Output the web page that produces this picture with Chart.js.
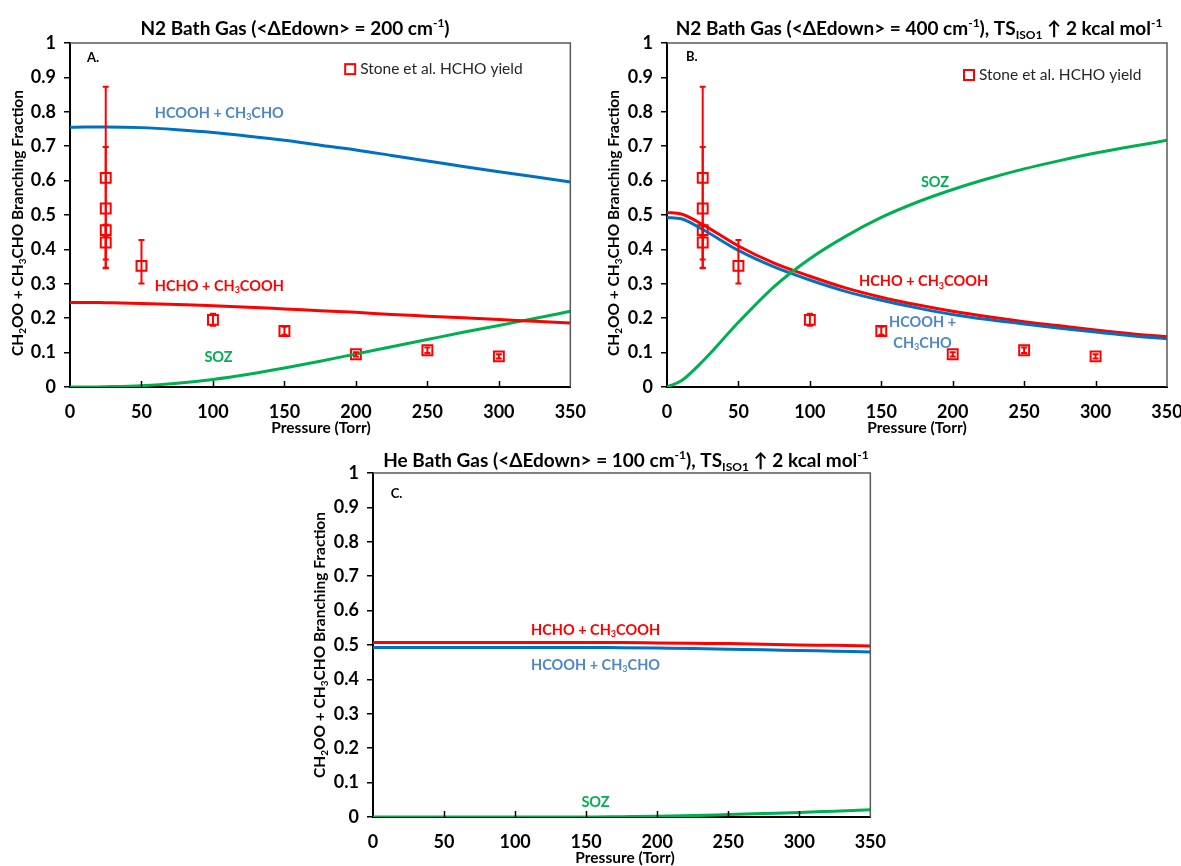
<!DOCTYPE html>
<html>
<head>
<meta charset="utf-8">
<script src="https://cdn.jsdelivr.net/npm/chart.js@4/dist/chart.umd.min.js"></script>
<style>
  html, body { margin: 0; padding: 0; background: #ffffff; }
  #wrap { position: relative; width: 1181px; height: 866px; overflow: hidden; background: #ffffff; }
  #wrap canvas { position: absolute; }
</style>
</head>
<body>
<div id="wrap">
  <canvas id="panelA"></canvas>
  <canvas id="panelB"></canvas>
  <canvas id="panelC"></canvas>
</div>
<script>
// ---------- data ----------
const pressureGrid = [0, 10, 25, 50, 75, 100, 125, 150, 175, 200, 225, 250, 275, 300, 325, 350];

// Panel A: N2, <ΔEdown> = 200 cm-1
const aAcidAldehyde = [0.755, 0.756, 0.756, 0.754, 0.748, 0.740, 0.729, 0.717, 0.703, 0.689, 0.673, 0.657, 0.641, 0.626, 0.611, 0.596];
const aHchoAcid     = [0.246, 0.246, 0.245, 0.243, 0.240, 0.236, 0.232, 0.227, 0.222, 0.217, 0.211, 0.206, 0.201, 0.196, 0.191, 0.186];
const aSoz          = [0.000, 0.000, 0.001, 0.004, 0.011, 0.022, 0.037, 0.055, 0.075, 0.096, 0.117, 0.138, 0.159, 0.179, 0.199, 0.220];

// Panel B: N2, <ΔEdown> = 400 cm-1, TS_ISO1 raised 2 kcal/mol
const bHchoAcid     = [0.507, 0.503, 0.472, 0.410, 0.360, 0.322, 0.288, 0.261, 0.239, 0.220, 0.204, 0.190, 0.178, 0.166, 0.155, 0.146];
const bAcidAldehyde = [0.493, 0.489, 0.458, 0.397, 0.349, 0.311, 0.278, 0.252, 0.230, 0.211, 0.196, 0.183, 0.171, 0.160, 0.149, 0.140];
const bSoz          = [0.000, 0.018, 0.075, 0.188, 0.292, 0.373, 0.438, 0.493, 0.537, 0.574, 0.606, 0.634, 0.658, 0.680, 0.699, 0.717];

// Panel C: He, <ΔEdown> = 100 cm-1, TS_ISO1 raised 2 kcal/mol
const cHchoAcid     = [0.507, 0.507, 0.507, 0.507, 0.507, 0.507, 0.507, 0.507, 0.507, 0.506, 0.505, 0.504, 0.502, 0.500, 0.499, 0.497];
const cAcidAldehyde = [0.493, 0.493, 0.493, 0.493, 0.493, 0.493, 0.493, 0.493, 0.492, 0.491, 0.490, 0.488, 0.486, 0.484, 0.482, 0.480];
const cSoz          = [0.000, 0.000, 0.000, 0.000, 0.000, 0.000, 0.000, 0.000, 0.001, 0.002, 0.004, 0.007, 0.010, 0.013, 0.017, 0.021];

// Stone et al. HCHO yield with error limits
const stonePressure = [25, 25, 25, 25, 50, 100, 150, 200, 250, 300];
const stoneYield    = [0.608, 0.519, 0.456, 0.420, 0.352, 0.195, 0.163, 0.095, 0.107, 0.089];
const stoneLow      = [0.347, 0.345, 0.440, 0.371, 0.301, 0.178, 0.152, 0.089, 0.099, 0.083];
const stoneHigh     = [0.873, 0.698, 0.472, 0.470, 0.427, 0.213, 0.175, 0.101, 0.115, 0.095];

// axis ticks
const xTicks = [0, 50, 100, 150, 200, 250, 300, 350];
const xTickLabels = ['0', '50', '100', '150', '200', '250', '300', '350'];
const yTicks = [0, 0.1, 0.2, 0.3, 0.4, 0.5, 0.6, 0.7, 0.8, 0.9, 1];
const yTickLabels = ['0', '0.1', '0.2', '0.3', '0.4', '0.5', '0.6', '0.7', '0.8', '0.9', '1'];

// ---------- styling ----------
const FONT = 'Lato, "DejaVu Sans", sans-serif';
const RED = '#ff0000';
const BLUE = '#0070c0';
const BLUE_TEXT = '#4f86c6';
const GREEN = '#00b050';
const Y_AXIS_W = 45;
const X_AXIS_H = 45;

const acidLabel = [['HCOOH + CH', ''], ['3', 'sub'], ['CHO', '']];
const hchoLabel = [['HCHO + CH', ''], ['3', 'sub'], ['COOH', '']];
const yTitleParts = [['CH', ''], ['2', 'sub'], ['OO + CH', ''], ['3', 'sub'], ['CHO Branching Fraction', '']];
const tsParts = [['), TS', ''], ['ISO1', 'sub'], [' \u2191 2 kcal mol', ''], ['-1', 'sup']];

const panels = [
  {
    id: 'panelA', box: { left: 0, top: 0, width: 600, height: 440 },
    area: { left: 70, top: 43, right: 572, bottom: 387 },
    title: { parts: [['N2 Bath Gas (<\u0394Edown> = 200 cm', ''], ['-1', 'sup'], [')', '']], x: 295, y: 29 },
    yTitle: { x: 18, y: 223 }, xTitle: { x: 321, y: 428 },
    tag: { text: 'A.', x: 11.9, y: 0.958 },
    legend: { x: 196, y: 0.924 },
    lines: [
      { data: aAcidAldehyde, color: BLUE },
      { data: aHchoAcid, color: RED },
      { data: aSoz, color: GREEN }
    ],
    stone: true,
    labels: [
      { parts: acidLabel, color: BLUE_TEXT, x: 59.3, y: 0.797, align: 'left' },
      { parts: hchoLabel, color: RED, x: 59.3, y: 0.294, align: 'left' },
      { parts: [['SOZ', '']], color: GREEN, x: 103.9, y: 0.087, align: 'center' }
    ]
  },
  {
    id: 'panelB', box: { left: 596, top: 0, width: 612, height: 440 },
    area: { left: 71, top: 43, right: 571, bottom: 387 },
    title: { parts: [['N2 Bath Gas (<\u0394Edown> = 400 cm', ''], ['-1', 'sup']].concat(tsParts), x: 323, y: 29 },
    yTitle: { x: 18, y: 223 }, xTitle: { x: 321, y: 428 },
    tag: { text: 'B.', x: 13.3, y: 0.959 },
    legend: { x: 211.4, y: 0.907 },
    lines: [
      { data: bSoz, color: GREEN },
      { data: bAcidAldehyde, color: BLUE },
      { data: bHchoAcid, color: RED }
    ],
    stone: true,
    labels: [
      { parts: [['SOZ', '']], color: GREEN, x: 187.6, y: 0.596, align: 'center' },
      { parts: hchoLabel, color: RED, x: 134.4, y: 0.306, align: 'left' },
      { parts: [['HCOOH +', '']], color: BLUE_TEXT, x: 178.9, y: 0.189, align: 'center' },
      { parts: [['CH', ''], ['3', 'sub'], ['CHO', '']], color: BLUE_TEXT, x: 178.9, y: 0.128, align: 'center' }
    ]
  },
  {
    id: 'panelC', box: { left: 300, top: 440, width: 600, height: 426 },
    area: { left: 73, top: 33, right: 576, bottom: 377 },
    title: { parts: [['He Bath Gas (<\u0394Edown> = 100 cm', ''], ['-1', 'sup']].concat(tsParts), x: 326, y: 21 },
    yTitle: { x: 20, y: 205 }, xTitle: { x: 325, y: 418 },
    tag: { text: 'C.', x: 12.5, y: 0.939 },
    legend: null,
    lines: [
      { data: cSoz, color: GREEN },
      { data: cAcidAldehyde, color: BLUE },
      { data: cHchoAcid, color: RED }
    ],
    stone: false,
    labels: [
      { parts: hchoLabel, color: RED, x: 156.6, y: 0.544, align: 'center' },
      { parts: acidLabel, color: BLUE_TEXT, x: 156.6, y: 0.442, align: 'center' },
      { parts: [['SOZ', '']], color: GREEN, x: 156.6, y: 0.044, align: 'center' }
    ]
  }
];

// ---------- drawing helpers ----------
function drawRich(ctx, x, y, parts, size, weight, color, align) {
  ctx.save();
  ctx.fillStyle = color;
  ctx.textBaseline = 'middle';
  ctx.textAlign = 'left';
  const small = Math.round(size * 0.62);
  const fontFor = (m) => weight + ' ' + (m ? small : size) + 'px ' + FONT;
  let w = 0;
  for (const [t, m] of parts) { ctx.font = fontFor(m); w += ctx.measureText(t).width; }
  let cx = align === 'center' ? x - w / 2 : (align === 'right' ? x - w : x);
  for (const [t, m] of parts) {
    ctx.font = fontFor(m);
    const dy = m === 'sub' ? size * 0.3 : (m === 'sup' ? -size * 0.33 : 0);
    ctx.fillText(t, cx, y + dy);
    cx += ctx.measureText(t).width;
  }
  ctx.restore();
  return w;
}

function zip(xs, ys) { return xs.map((x, i) => ({ x: x, y: ys[i] })); }

const decorPlugin = {
  id: 'decor',
  afterDatasetsDraw(chart) {
    const p = chart.options.plugins.decor.panel;
    if (!p.stone) return;
    const ctx = chart.ctx, xs = chart.scales.x, ys = chart.scales.y;
    ctx.save();
    ctx.strokeStyle = RED;
    ctx.lineWidth = 2;
    for (let i = 0; i < stonePressure.length; i++) {
      const px = xs.getPixelForValue(stonePressure[i]);
      const y1 = ys.getPixelForValue(stoneLow[i]);
      const y2 = ys.getPixelForValue(stoneHigh[i]);
      ctx.beginPath();
      ctx.moveTo(px, y1); ctx.lineTo(px, y2);
      ctx.moveTo(px - 3, y1); ctx.lineTo(px + 3, y1);
      ctx.moveTo(px - 3, y2); ctx.lineTo(px + 3, y2);
      ctx.stroke();
    }
    ctx.restore();
  },
  afterDraw(chart) {
    const p = chart.options.plugins.decor.panel;
    const ctx = chart.ctx, xs = chart.scales.x, ys = chart.scales.y;
    const a = chart.chartArea;
    ctx.save();
    // top and right frame of the plot area
    ctx.strokeStyle = '#595959';
    ctx.lineWidth = 1.5;
    ctx.beginPath();
    ctx.moveTo(a.left, a.top); ctx.lineTo(a.right, a.top); ctx.lineTo(a.right, a.bottom);
    ctx.stroke();
    // inward tick marks on the pressure axis
    ctx.strokeStyle = '#000';
    ctx.lineWidth = 1.5;
    ctx.beginPath();
    for (const v of xTicks.slice(1, -1)) {
      const px = Math.round(xs.getPixelForValue(v)) + 0.5;
      ctx.moveTo(px, a.bottom); ctx.lineTo(px, a.bottom - 6);
    }
    ctx.stroke();
    ctx.restore();

    // titles
    drawRich(ctx, p.title.x, p.title.y, p.title.parts, 19, 'bold', '#000', 'center');
    drawRich(ctx, p.xTitle.x, p.xTitle.y, [['Pressure (Torr)', '']], 15.5, 'bold', '#000', 'center');
    ctx.save();
    ctx.translate(p.yTitle.x, p.yTitle.y);
    ctx.rotate(-Math.PI / 2);
    drawRich(ctx, 0, 0, yTitleParts, 15.5, 'bold', '#000', 'center');
    ctx.restore();

    // panel letter
    drawRich(ctx, xs.getPixelForValue(p.tag.x), ys.getPixelForValue(p.tag.y), [[p.tag.text, '']], 13, 'bold', '#000', 'left');

    // curve labels
    for (const l of p.labels) {
      drawRich(ctx, xs.getPixelForValue(l.x), ys.getPixelForValue(l.y), l.parts, 14.5, 'bold', l.color, l.align);
    }

    // legend
    if (p.legend) {
      const lx = xs.getPixelForValue(p.legend.x), ly = ys.getPixelForValue(p.legend.y);
      ctx.save();
      ctx.strokeStyle = RED;
      ctx.lineWidth = 2;
      ctx.strokeRect(lx - 5, ly - 5, 10, 10);
      ctx.restore();
      drawRich(ctx, lx + 10, ly, [['Stone et al. HCHO yield', '']], 15.5, 'normal', '#262626', 'left');
    }
  }
};

// ---------- build charts ----------
for (const p of panels) {
  const cv = document.getElementById(p.id);
  cv.width = p.box.width; cv.height = p.box.height;
  cv.style.left = p.box.left + 'px'; cv.style.top = p.box.top + 'px';
  cv.style.width = p.box.width + 'px'; cv.style.height = p.box.height + 'px';

  const datasets = p.lines.map(s => ({
    type: 'line',
    data: zip(pressureGrid, s.data),
    borderColor: s.color,
    borderWidth: 3,
    pointRadius: 0,
    fill: false,
    cubicInterpolationMode: 'monotone'
  }));
  if (p.stone) {
    datasets.push({
      type: 'scatter',
      data: zip(stonePressure, stoneYield),
      showLine: false,
      pointStyle: 'rect',
      pointRadius: 7,
      pointBorderWidth: 2,
      pointBorderColor: RED,
      pointBackgroundColor: 'rgba(0,0,0,0)'
    });
  }

  new Chart(cv, {
    type: 'scatter',
    data: { datasets: datasets },
    options: {
      responsive: false,
      animation: false,
      devicePixelRatio: 1,
      layout: {
        autoPadding: false,
        padding: {
          left: p.area.left - Y_AXIS_W,
          top: p.area.top,
          right: p.box.width - p.area.right,
          bottom: p.box.height - p.area.bottom - X_AXIS_H
        }
      },
      plugins: {
        legend: { display: false },
        tooltip: { enabled: false },
        title: { display: false },
        decor: { panel: p }
      },
      scales: {
        x: {
          type: 'linear', min: 0, max: 350,
          afterBuildTicks: s => { s.ticks = xTicks.map(v => ({ value: v })); },
          afterFit: s => { s.height = X_AXIS_H; },
          grid: { display: false, drawTicks: false },
          border: { display: true, color: '#000', width: 2 },
          ticks: {
            padding: 14, color: '#000',
            font: { family: FONT, size: 18, weight: 'bold' },
            callback: (v, i) => xTickLabels[i]
          }
        },
        y: {
          type: 'linear', min: 0, max: 1,
          afterBuildTicks: s => { s.ticks = yTicks.map(v => ({ value: v })); },
          afterFit: s => { s.width = Y_AXIS_W; },
          grid: { display: true, drawOnChartArea: false, drawTicks: true, tickLength: 6, color: '#000', lineWidth: 1.5 },
          border: { display: true, color: '#000', width: 2 },
          ticks: {
            padding: 8, color: '#000',
            font: { family: FONT, size: 18, weight: 'bold' },
            callback: (v, i) => yTickLabels[i]
          }
        }
      }
    },
    plugins: [decorPlugin]
  });
}
</script>
</body>
</html>
